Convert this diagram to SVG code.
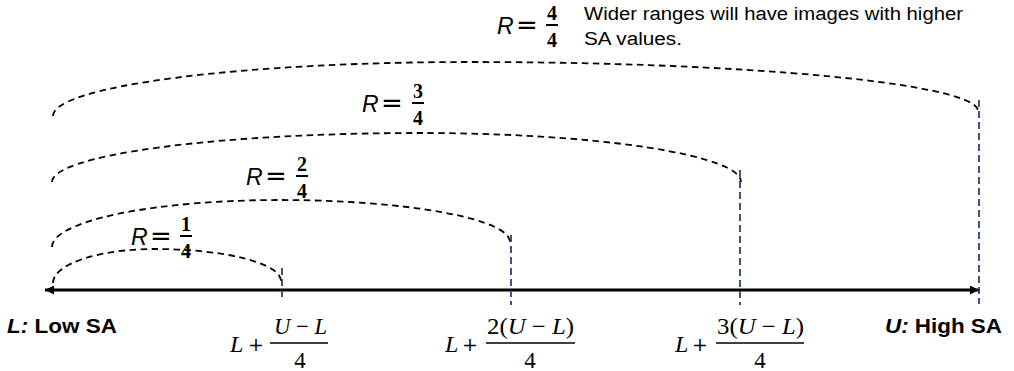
<svg xmlns="http://www.w3.org/2000/svg" width="1014" height="371" viewBox="0 0 1014 371">
<style>
.arc{fill:none;stroke:#000;stroke-width:1.8;stroke-dasharray:6.5 4.5}
.tick{fill:none;stroke:#1F3864;stroke-width:1.7;stroke-dasharray:7 4}
.axis{fill:none;stroke:#000;stroke-width:3}
.r{font-family:"Liberation Sans",Arial,sans-serif;font-style:italic;font-size:23px;fill:#000}
.eq{font-family:"DejaVu Sans",sans-serif;font-size:26px;fill:#000}
.fd{font-family:"Liberation Serif","Times New Roman",serif;font-weight:bold;font-size:20px;fill:#000;text-anchor:middle}
.fbar{stroke:#000;stroke-width:2}
.note{font-family:"Liberation Sans",Arial,sans-serif;font-size:17.6px;fill:#000}
.end{font-family:"Liberation Sans",Arial,sans-serif;font-weight:bold;font-size:19.5px;fill:#000}
.m{font-family:"Liberation Serif","Times New Roman",serif;font-size:23px;fill:#000}
.mb{font-family:"Liberation Serif","Times New Roman",serif;font-size:24px;fill:#000}
.plus{font-family:"DejaVu Serif","Liberation Serif",serif;font-size:19px;fill:#000}
.i{font-style:italic}
.mbar{stroke:#000;stroke-width:1.3}
</style>
<defs>
<marker id="ah" viewBox="0 0 10 10" refX="10" refY="5" markerWidth="10" markerHeight="9" markerUnits="userSpaceOnUse" orient="auto-start-reverse">
<path d="M0,0 L10,5 L0,10 z" fill="#000"/>
</marker>
</defs>

<g id="connectors">
<path id="arc1" class="arc" d="M53,283 A102,34 0 0 1 155,249 A126,32 0 0 1 281,281"/>
<path id="arc2" class="arc" d="M52,247 A228,47 0 0 1 280,200 A230,42 0 0 1 510,242"/>
<path id="arc3" class="arc" d="M52,182 A368,49 0 0 1 420,133 A321,49 0 0 1 741,182"/>
<path id="arc4" class="arc" d="M53,116 A417,54 0 0 1 470,62 A508,49 0 0 1 978,111"/>
<line id="axis-line" class="axis" x1="45" y1="290" x2="979" y2="290" marker-start="url(#ah)" marker-end="url(#ah)"/>
<line class="tick" x1="282" y1="268" x2="282" y2="300"/>
<line class="tick" x1="511" y1="235" x2="511" y2="305"/>
<line class="tick" x1="740" y1="170" x2="740" y2="305"/>
<line class="tick" x1="979" y1="100" x2="979" y2="304"/>
</g>

<g id="label-r4">
<text class="r" x="497" y="33.5">R</text>
<text class="eq" x="516" y="33.5">=</text>
<line class="fbar" x1="546" y1="25" x2="558" y2="25"/>
<text class="fd" x="552" y="20">4</text>
<text class="fd" x="552" y="46.5">4</text>
</g>
<g id="note">
<text class="note" x="584" y="20" textLength="379" lengthAdjust="spacingAndGlyphs">Wider ranges will have images with higher</text>
<text class="note" x="584" y="44.5" textLength="98" lengthAdjust="spacingAndGlyphs">SA values.</text>
</g>
<g id="label-r3">
<text class="r" x="362" y="111.5">R</text>
<text class="eq" x="381" y="111.5">=</text>
<line class="fbar" x1="412" y1="103" x2="424" y2="103"/>
<text class="fd" x="418" y="98">3</text>
<text class="fd" x="418" y="124.5">4</text>
</g>
<g id="label-r2">
<text class="r" x="246" y="184.5">R</text>
<text class="eq" x="265" y="184.5">=</text>
<line class="fbar" x1="296" y1="176" x2="308" y2="176"/>
<text class="fd" x="302" y="171">2</text>
<text class="fd" x="302" y="197.5">4</text>
</g>
<g id="label-r1">
<text class="r" x="131" y="244.5">R</text>
<text class="eq" x="150" y="244.5">=</text>
<line class="fbar" x1="180" y1="236" x2="192" y2="236"/>
<text class="fd" x="186" y="231">1</text>
<text class="fd" x="186" y="257.5">4</text>
</g>

<g id="label-low">
<text class="end" x="7" y="333" textLength="110" lengthAdjust="spacingAndGlyphs"><tspan class="i">L:</tspan> Low SA</text>
</g>
<g id="label-high">
<text class="end" x="885" y="333" textLength="117" lengthAdjust="spacingAndGlyphs"><tspan class="i">U:</tspan> High SA</text>
</g>

<g id="formula-1">
<text class="mb" x="230" y="352"><tspan class="i">L</tspan></text>
<text class="plus" x="248" y="351">+</text>
<line class="mbar" x1="270" y1="343" x2="328" y2="343"/>
<text class="m" x="274" y="334" textLength="53" lengthAdjust="spacingAndGlyphs"><tspan class="i">U</tspan> − <tspan class="i">L</tspan></text>
<text class="m" x="300" y="368" text-anchor="middle">4</text>
</g>
<g id="formula-2">
<text class="mb" x="445" y="352"><tspan class="i">L</tspan></text>
<text class="plus" x="462" y="351">+</text>
<line class="mbar" x1="486" y1="343" x2="575" y2="343"/>
<text class="m" x="487" y="334" textLength="87" lengthAdjust="spacingAndGlyphs">2(<tspan class="i">U</tspan> − <tspan class="i">L</tspan>)</text>
<text class="m" x="530" y="368" text-anchor="middle">4</text>
</g>
<g id="formula-3">
<text class="mb" x="675" y="352"><tspan class="i">L</tspan></text>
<text class="plus" x="692" y="351">+</text>
<line class="mbar" x1="716" y1="343" x2="804" y2="343"/>
<text class="m" x="717" y="334" textLength="87" lengthAdjust="spacingAndGlyphs">3(<tspan class="i">U</tspan> − <tspan class="i">L</tspan>)</text>
<text class="m" x="760" y="368" text-anchor="middle">4</text>
</g>
</svg>
